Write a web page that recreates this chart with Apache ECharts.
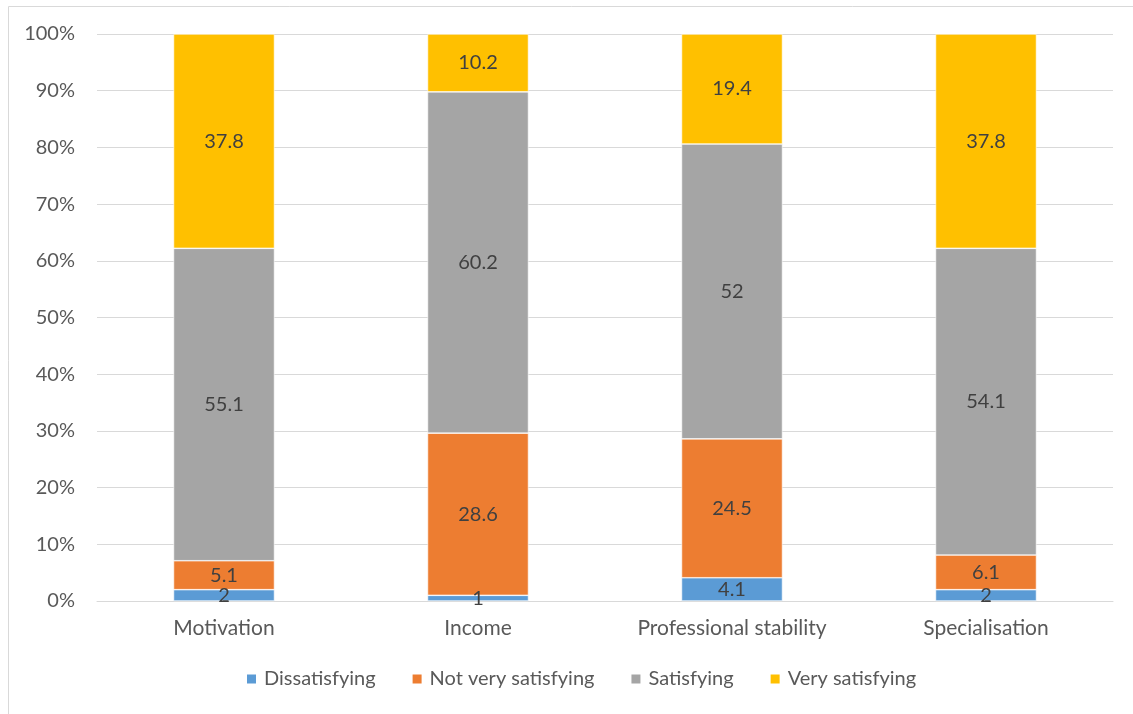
<!DOCTYPE html>
<html>
<head>
<meta charset="utf-8">
<script src="https://cdn.jsdelivr.net/npm/echarts@6/dist/echarts.min.js"></script>
<style>
html,body{margin:0;padding:0;background:#fff;}
#c{width:1133px;height:714px;}
</style>
</head>
<body>
<div id="c"></div>
<script>
const categories = ['Motivation', 'Income', 'Professional stability', 'Specialisation'];
const seriesNames = ['Dissatisfying', 'Not very satisfying', 'Satisfying', 'Very satisfying'];
const dissatisfying = [2, 1, 4.1, 2];
const notVerySatisfying = [5.1, 28.6, 24.5, 6.1];
const satisfying = [55.1, 60.2, 52, 54.1];
const verySatisfying = [37.8, 10.2, 19.4, 37.8];
const colors = ['#5b9bd5', '#ed7d31', '#a5a5a5', '#ffc000'];
const allValues = [dissatisfying, notVerySatisfying, satisfying, verySatisfying];

const FONT = 'Lato';
const chart = echarts.init(document.getElementById('c'), null, {renderer: 'canvas'});
chart.setOption({
  animation: false,
  textStyle: {fontFamily: FONT},
  graphic: [{
    type: 'rect', silent: true, z: -10,
    shape: {x: 8.5, y: 6.5, width: 1300, height: 900},
    style: {fill: 'none', stroke: '#d9d9d9', lineWidth: 1}
  }],
  grid: {left: 97, right: 20, top: 34, bottom: 113, containLabel: false},
  legend: {
    bottom: 20, left: 240,
    itemWidth: 11, itemHeight: 11, itemGap: 35,
    icon: 'rect',
    textStyle: {color: '#595959', fontSize: 20, fontFamily: FONT, padding: [0, 0, 0, 2]},
    data: seriesNames
  },
  xAxis: {
    type: 'category', data: categories,
    axisLine: {lineStyle: {color: '#d9d9d9', width: 1}},
    axisTick: {show: false},
    axisLabel: {color: '#595959', fontSize: 21, margin: 17, fontFamily: FONT}
  },
  yAxis: {
    type: 'value', min: 0, max: 100, interval: 10,
    axisLine: {show: false}, axisTick: {show: false},
    splitLine: {lineStyle: {color: '#d9d9d9', width: 1}},
    axisLabel: {color: '#595959', fontSize: 20, margin: 22, formatter: '{value}%', fontFamily: FONT}
  },
  series: seriesNames.map((n, i) => ({
    name: n, type: 'bar', stack: 'total', barWidth: 101,
    data: allValues[i],
    itemStyle: {color: colors[i], borderColor: '#ffffff', borderWidth: 0.6},
    label: {show: true, position: 'inside', color: '#404040', fontSize: 20, fontFamily: FONT}
  }))
});
</script>
</body>
</html>
